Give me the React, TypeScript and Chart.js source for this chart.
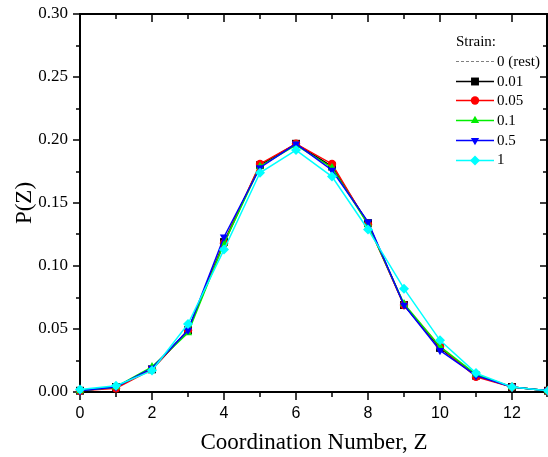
import React, { useEffect, useRef } from 'react';
import { Chart, registerables } from 'chart.js';

Chart.register(...registerables);

// ---- Data ----
const Z_VALUES = [0, 1, 2, 3, 4, 5, 6, 7, 8, 9, 10, 11, 12, 13];
const P_REST = [0.001, 0.004, 0.018, 0.048, 0.119, 0.180, 0.197, 0.179, 0.134, 0.069, 0.035, 0.013, 0.004, 0.001];
const P_001 = [0.001, 0.004, 0.018, 0.049, 0.119, 0.180, 0.197, 0.179, 0.134, 0.069, 0.035, 0.013, 0.004, 0.001];
const P_005 = [0.001, 0.003, 0.018, 0.049, 0.118, 0.181, 0.197, 0.181, 0.133, 0.069, 0.036, 0.012, 0.004, 0.001];
const P_01 = [0.001, 0.004, 0.020, 0.047, 0.118, 0.179, 0.196, 0.178, 0.133, 0.070, 0.036, 0.014, 0.004, 0.001];
const P_05 = [0.001, 0.004, 0.019, 0.049, 0.123, 0.178, 0.197, 0.176, 0.135, 0.069, 0.033, 0.013, 0.004, 0.001];
const P_1 = [0.002, 0.005, 0.017, 0.054, 0.113, 0.174, 0.192, 0.171, 0.129, 0.082, 0.041, 0.015, 0.004, 0.001];

const SERIES_LABELS = ['0 (rest)', '0.01', '0.05', '0.1', '0.5', '1'];
const SERIES_VALUES = [P_REST, P_001, P_005, P_01, P_05, P_1];
const SERIES_COLORS = ['#808080', '#000000', '#ff0000', '#00ee00', '#0000ff', '#00ffff'];
const SERIES_MARKERS = ['none', 'rect', 'circle', 'triangle', 'triangleDown', 'rectRot'];
const LEGEND_TITLE = 'Strain:';

const X_MIN = 0, X_MAX = 13, X_STEP = 2, X_MINOR = 1;
const Y_MIN = 0, Y_MAX = 0.30, Y_STEP = 0.05, Y_MINOR = 0.025;
const X_TITLE = 'Coordination Number, Z';
const Y_TITLE = 'P(Z)';

const SERIF = '"Liberation Serif", "Times New Roman", serif';
const SANS = '"Liberation Sans", Arial, sans-serif';

function markerRadius(m: string) {
  switch (m) {
    case 'rect': return 5.6;
    case 'circle': return 4.2;
    case 'triangle': return 4.8;
    case 'triangleDown': return 4.8;
    case 'rectRot': return 5;
    default: return 0;
  }
}

function drawMarker(ctx: CanvasRenderingContext2D, m: string, x: number, y: number, r: number, color: string) {
  ctx.save();
  ctx.fillStyle = color;
  ctx.beginPath();
  if (m === 'rect') {
    const s = r * Math.SQRT1_2;
    ctx.rect(x - s, y - s, 2 * s, 2 * s);
  } else if (m === 'circle') {
    ctx.arc(x, y, r, 0, Math.PI * 2);
  } else if (m === 'triangle') {
    ctx.moveTo(x, y - r);
    ctx.lineTo(x + r * 0.866, y + r * 0.5);
    ctx.lineTo(x - r * 0.866, y + r * 0.5);
    ctx.closePath();
  } else if (m === 'triangleDown') {
    ctx.moveTo(x, y + r);
    ctx.lineTo(x + r * 0.866, y - r * 0.5);
    ctx.lineTo(x - r * 0.866, y - r * 0.5);
    ctx.closePath();
  } else if (m === 'rectRot') {
    ctx.moveTo(x, y - r);
    ctx.lineTo(x + r, y);
    ctx.lineTo(x, y + r);
    ctx.lineTo(x - r, y);
    ctx.closePath();
  }
  ctx.fill();
  ctx.restore();
}

const framePlugin = {
  id: 'frameTicks',
  beforeDatasetsDraw(chart: any) {
    const { ctx, chartArea, scales } = chart;
    const xs = scales.x, ys = scales.y;
    const L = chartArea.left, R = chartArea.right - 1, T = chartArea.top, B = chartArea.bottom;
    ctx.save();
    ctx.strokeStyle = '#000';
    ctx.lineWidth = 1.5;
    ctx.beginPath();
    for (let v = X_MIN; v <= X_MAX + 1e-9; v += X_MINOR) {
      const px = Math.min(Math.round(xs.getPixelForValue(v)), R);
      const major = Math.abs(v / X_STEP - Math.round(v / X_STEP)) < 1e-6;
      const len = major ? 8 : 5;
      ctx.moveTo(px, B);
      ctx.lineTo(px, B + len);
      ctx.moveTo(px, T);
      ctx.lineTo(px, T + len);
    }
    for (let v = Y_MIN; v <= Y_MAX + 1e-9; v += Y_MINOR) {
      const py = Math.round(ys.getPixelForValue(v));
      const major = Math.abs(v / Y_STEP - Math.round(v / Y_STEP)) < 1e-6;
      const len = major ? 7 : 4;
      ctx.moveTo(L, py);
      ctx.lineTo(L - len, py);
      ctx.moveTo(R, py);
      ctx.lineTo(R - len, py);
    }
    ctx.stroke();
    ctx.lineWidth = 2;
    ctx.beginPath();
    ctx.moveTo(L, T);
    ctx.lineTo(R, T);
    ctx.lineTo(R, B);
    ctx.lineTo(L, B);
    ctx.closePath();
    ctx.stroke();
    ctx.restore();
  },
  afterDraw(chart: any) {
    const { ctx } = chart;
    const x0 = 456, x1 = 494, xt = 497;
    ctx.save();
    ctx.font = `15px ${SERIF}`;
    ctx.fillStyle = '#000';
    ctx.textBaseline = 'middle';
    ctx.textAlign = 'left';
    ctx.fillText(LEGEND_TITLE, 456, 42);
    SERIES_LABELS.forEach((lab, i) => {
      const y = 61 + i * 19.7;
      ctx.save();
      ctx.strokeStyle = SERIES_COLORS[i];
      ctx.lineWidth = i === 0 ? 1 : 1.5;
      ctx.setLineDash(i === 0 ? [3, 2] : []);
      ctx.beginPath();
      ctx.moveTo(x0, Math.round(y) + 0.5);
      ctx.lineTo(x1, Math.round(y) + 0.5);
      ctx.stroke();
      ctx.restore();
      if (SERIES_MARKERS[i] !== 'none') {
        drawMarker(ctx, SERIES_MARKERS[i], (x0 + x1) / 2, Math.round(y) + 0.5, markerRadius(SERIES_MARKERS[i]), SERIES_COLORS[i]);
      }
      ctx.fillStyle = '#000';
      ctx.fillText(lab, xt, y + 1);
    });
    ctx.restore();
  },
};

export default function App() {
  const ref = useRef<HTMLCanvasElement | null>(null);
  useEffect(() => {
    if (!ref.current) return;
    const datasets = SERIES_LABELS.map((lab, i) => {
      const m = SERIES_MARKERS[i];
      return {
        label: lab,
        data: Z_VALUES.map((z, k) => ({ x: z, y: SERIES_VALUES[i][k] })),
        borderColor: SERIES_COLORS[i],
        backgroundColor: SERIES_COLORS[i],
        borderWidth: i === 0 ? 1 : 1.5,
        borderDash: i === 0 ? [3, 2] : [],
        pointRadius: markerRadius(m),
        pointStyle: m === 'none' ? false : (m === 'triangleDown' ? 'triangle' : m),
        pointRotation: m === 'triangleDown' ? 180 : 0,
        pointBorderWidth: 0,
        pointBackgroundColor: SERIES_COLORS[i],
        pointBorderColor: SERIES_COLORS[i],
        tension: 0,
        order: SERIES_LABELS.length - i,
        clip: false as any,
      };
    });
    const chart = new Chart(ref.current, {
      type: 'line',
      data: { datasets: datasets as any },
      options: {
        animation: false,
        responsive: false,
        devicePixelRatio: 1,
        layout: { autoPadding: false, padding: { top: 14, right: 0, left: 0, bottom: 0 } },
        plugins: { legend: { display: false }, tooltip: { enabled: false } },
        scales: {
          x: {
            type: 'linear',
            min: X_MIN,
            max: X_MAX,
            grid: { display: false },
            border: { display: false },
            afterBuildTicks: (s: any) => {
              s.ticks = s.ticks.filter((t: any) => Math.abs(t.value / X_STEP - Math.round(t.value / X_STEP)) < 1e-6);
            },
            ticks: {
              stepSize: X_STEP,
              padding: 4,
              color: '#000',
              font: { family: SANS, size: 16 },
              maxRotation: 0,
              callback: (v: any) => String(v),
            },
            title: {
              display: true,
              text: X_TITLE,
              color: '#000',
              font: { family: SERIF, size: 23 },
              padding: { top: 0, bottom: 0 },
            },
            afterFit: (s: any) => {
              s.height = 65;
              s.paddingLeft = 0;
              s.paddingRight = 0;
            },
          },
          y: {
            type: 'linear',
            min: Y_MIN,
            max: Y_MAX,
            grid: { display: false },
            border: { display: false },
            ticks: {
              stepSize: Y_STEP,
              padding: 4,
              color: '#000',
              font: { family: SERIF, size: 17 },
              callback: (v: any) => Number(v).toFixed(2),
            },
            title: {
              display: true,
              text: Y_TITLE,
              color: '#000',
              font: { family: SERIF, size: 23 },
              padding: { top: 11, bottom: 0 },
            },
            afterFit: (s: any) => {
              s.width = 80;
              s.paddingTop = 0;
              s.paddingBottom = 0;
            },
          },
        },
      } as any,
      plugins: [framePlugin],
    });
    return () => chart.destroy();
  }, []);
  return (
    <div style={{ position: 'absolute', left: 0, top: 0, width: 548, height: 457, background: '#fff' }}>
      <canvas ref={ref} width={548} height={457} />
    </div>
  );
}
